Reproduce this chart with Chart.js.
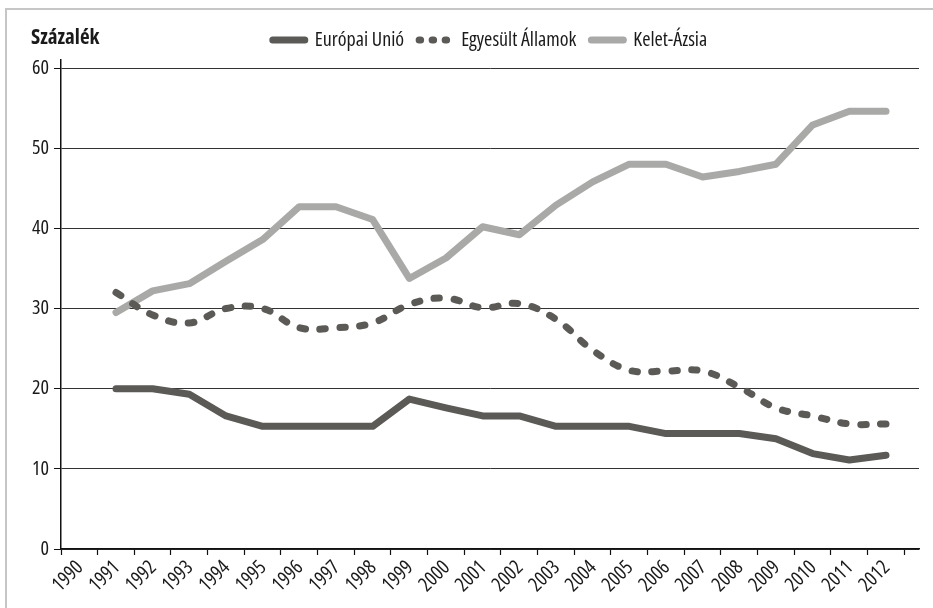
<!DOCTYPE html>
<html>
<head>
<meta charset="utf-8">
<script src="https://cdn.jsdelivr.net/npm/chart.js@4"></script>
<style>
html,body{margin:0;padding:0;background:#fff;}
#wrap{position:relative;width:933px;height:608px;overflow:hidden;background:#fff;}
#frame{position:absolute;left:5px;top:8px;width:960px;height:640px;border-left:2px solid #c6c6c6;border-top:2px solid #c6c6c6;}
#ttl{position:absolute;left:31px;top:26px;font-family:'Open Sans',sans-serif;font-stretch:75%;font-weight:bold;font-size:21px;line-height:21px;color:#1a1a1a;white-space:nowrap;}
canvas{position:absolute;left:0;top:0;}
</style>
</head>
<body>
<div id="wrap">
  <div id="frame"></div>
  <canvas id="c" width="933" height="608"></canvas>
  <div id="ttl">Százalék</div>
</div>
<script>
const tickLabels = ['1990','1991','1992','1993','1994','1995','1996','1997','1998','1999','2000','2001','2002','2003','2004','2005','2006','2007','2008','2009','2010','2011','2012'];
const years = [1991,1992,1993,1994,1995,1996,1997,1998,1999,2000,2001,2002,2003,2004,2005,2006,2007,2008,2009,2010,2011,2012];
const euValues = [20.0,20.0,19.3,16.6,15.3,15.3,15.3,15.3,18.7,17.6,16.6,16.6,15.3,15.3,15.3,14.4,14.4,14.4,13.75,11.9,11.1,11.7];
const usValues = [32.0,29.2,28.2,30.0,30.0,27.6,27.6,28.2,30.5,31.3,30.1,30.6,28.65,24.8,22.3,22.2,22.2,20.2,17.6,16.6,15.6,15.6];
const asiaValues = [29.5,32.2,33.1,35.9,38.6,42.7,42.7,41.1,33.75,36.3,40.2,39.2,42.9,45.8,48.0,48.0,46.4,47.1,48.0,52.9,54.6,54.6];
const yTicks = [0,10,20,30,40,50,60];
const seriesNames = ['Európai Unió','Egyesült Államok','Kelet-Ázsia'];

const FAMILY = "'Open Sans', sans-serif";
const FONT = {family: FAMILY, size: 20, weight: 'condensed'};
const DARK = '#5b5a56';
const LIGHT = '#a9a9a7';
const pts = vals => years.map((yr,i)=>({x:yr,y:vals[i]}));

new Chart(document.getElementById('c'), {
  type: 'line',
  data: {
    datasets: [
      {label: seriesNames[0], data: pts(euValues), borderColor: DARK, backgroundColor: DARK, borderWidth: 7, pointRadius: 0, tension: 0, borderCapStyle:'round', borderJoinStyle:'round', order: 1},
      {label: seriesNames[1], data: pts(usValues), borderColor: DARK, backgroundColor: DARK, borderWidth: 7, pointRadius: 0, tension: 0.4, borderDash:[5.5,14.5], borderCapStyle:'round', order: 2},
      {label: seriesNames[2], data: pts(asiaValues), borderColor: LIGHT, backgroundColor: LIGHT, borderWidth: 7, pointRadius: 0, tension: 0, borderCapStyle:'round', borderJoinStyle:'round', order: 3}
    ]
  },
  options: {
    responsive: false,
    devicePixelRatio: 1,
    animation: false,
    layout: {padding: {left: 0, right: 14, top: 15, bottom: 0}},
    plugins: {
      tooltip: {enabled:false},
      legend: {
        position: 'top',
        fullSize: false,
        labels: {
          usePointStyle: true,
          pointStyleWidth: 32,
          padding: 15,
          color: '#1a1a1a',
          font: FONT,
          generateLabels(chart) {
            const items = Chart.defaults.plugins.legend.labels.generateLabels(chart);
            items.forEach((it,i)=>{
              it.pointStyle = 'line';
              it.lineWidth = 7;
              it.lineCap = 'round';
              it.lineDash = i===1 ? [1.5,11.5] : [];
              it.strokeStyle = i===2 ? LIGHT : DARK;
            });
            return items;
          }
        }
      }
    },
    scales: {
      x: {
        type: 'linear',
        min: 1989.5,
        max: 2012.9,
        afterBuildTicks: s => { s.ticks = tickLabels.concat(['']).map((_,i)=>({value:1989.5+i})); },
        afterFit: s => { s.height = 59; s.paddingLeft = 0; s.paddingRight = 0; },
        ticks: {
          callback: (v,i) => tickLabels[i] || '',
          autoSkip: false, minRotation: 45, maxRotation: 45,
          labelOffset: 19, padding: 1,
          color: '#1a1a1a', font: FONT
        },
        grid: {drawOnChartArea: false, drawTicks: true, tickLength: 6, tickColor: '#111', tickWidth: 1.2},
        border: {color: '#111', width: 1.5}
      },
      y: {
        min: 0,
        max: 61,
        afterBuildTicks: s => { s.ticks = yTicks.map(v=>({value:v})); },
        afterFit: s => { s.width = 61; s.paddingTop = 0; },
        ticks: {color:'#1a1a1a', font: FONT, padding: 5},
        grid: {color:'#333', lineWidth: 1, tickLength: 7, tickColor:'#111', drawTicks: true},
        border: {color:'#111', width: 1.5}
      }
    }
  }
});
</script>
</body>
</html>
